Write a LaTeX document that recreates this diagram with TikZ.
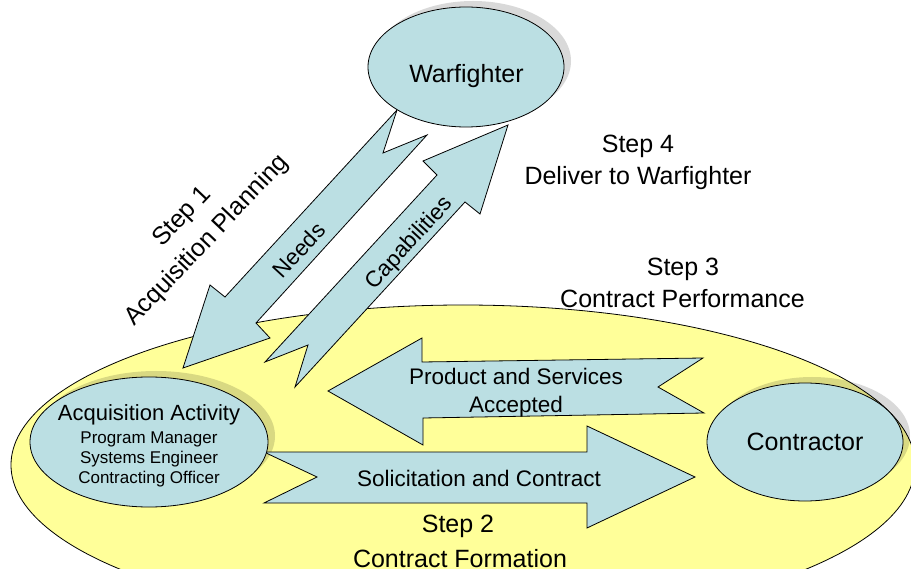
\documentclass[tikz,border=0pt]{standalone}
\usepackage{fontspec}
\setmainfont{Liberation Sans}
\usetikzlibrary{shapes.geometric}
\definecolor{pale}{RGB}{187,223,227}
\definecolor{yel}{RGB}{255,255,153}
\begin{document}
\begin{tikzpicture}[x=1pt,y=-1pt,line width=0.8pt,
  oval/.style={ellipse,draw,fill=pale,inner sep=0pt},
  shade/.style={ellipse,fill=black,opacity=0.15,inner sep=0pt},
  bigarrow/.style={draw,fill=pale,line join=miter},
  lbl/.style={inner sep=0pt,text depth=0pt,anchor=center},
  big/.style={lbl,text height=17.9pt,font=\fontsize{25}{30}\selectfont},
  mid/.style={lbl,text height=16.1pt,font=\fontsize{22.5}{27}\selectfont},
  acqf/.style={lbl,text height=15.75pt,font=\fontsize{22}{26}\selectfont},
  small/.style={lbl,text height=12.2pt,font=\fontsize{17}{20}\selectfont}]
\useasboundingbox (0,0) rectangle (911,569);
\clip (0,0) rectangle (911,569);
% field
\node[ellipse,draw,fill=yel,inner sep=0pt,minimum width=904,minimum height=320] (field) at (463,465) {};
% shadows
\node[shade,minimum width=196,minimum height=120] (wfs) at (473,61) {};
\node[shade,minimum width=238,minimum height=130] (acqs) at (156,436) {};
\node[shade,minimum width=196,minimum height=118] (cons) at (812,436) {};
% arrows
\draw[bigarrow] (397,110) -- (225,297) -- (210,285) -- (183,368) -- (270,338) -- (256,323) -- (427,135) -- (383,153) -- cycle;
\draw[bigarrow] (508,125) -- (423,161) -- (437,175) -- (265,362) -- (308,345) -- (295,387) -- (465,202) -- (480,214) -- cycle;
\draw[bigarrow] (328,391) -- (422,338) -- (422,362) -- (703,358) -- (658,387) -- (704,413) -- (423,418) -- (423,445) -- cycle;
\draw[bigarrow] (264,452) -- (587,452) -- (587,426) -- (695,477) -- (587,528) -- (587,503) -- (264,503) -- (317,477) -- cycle;
% ellipses
\node[oval,minimum width=196,minimum height=120] (wf) at (466,67) {};
\node[oval,minimum width=238,minimum height=130] (acq) at (149,442) {};
\node[oval,minimum width=196,minimum height=118] (con) at (805,442) {};
% texts
\node[big] (twf) at (466.5,74) {Warfighter};
\node[big] (tcon) at (805,442) {Contractor};
\node[acqf] (tacq) at (149,412.5) {Acquisition Activity};
\node[small] (tpm) at (149,437) {Program Manager};
\node[small] (tse) at (149,457) {Systems Engineer};
\node[small] (tco) at (149,477) {Contracting Officer};
\node[big] (s4a) at (638,144) {Step 4};
\node[big] (s4b) at (638,176) {Deliver to Warfighter};
\node[big] (s3a) at (683,266.5) {Step 3};
\node[big] (s3b) at (682.5,299) {Contract Performance};
\node[big] (s2a) at (458,523.5) {Step 2};
\node[big] (s2b) at (460,559) {Contract Formation};
\node[mid] (tps) at (516,376) {Product and Services};
\node[mid] (tac) at (516,404) {Accepted};
\node[mid] (tsol) at (479,478.5) {Solicitation and Contract};
\node[big,rotate=46.5] (s1a) at (180.5,215.5) {Step 1};
\node[big,rotate=46.5] (s1b) at (205.5,239) {Acquisition Planning};
\node[mid,rotate=47.4] (tneeds) at (299,250) {Needs};
\node[mid,rotate=47.4] (tcap) at (408,242) {Capabilities};
\end{tikzpicture}
\end{document}
